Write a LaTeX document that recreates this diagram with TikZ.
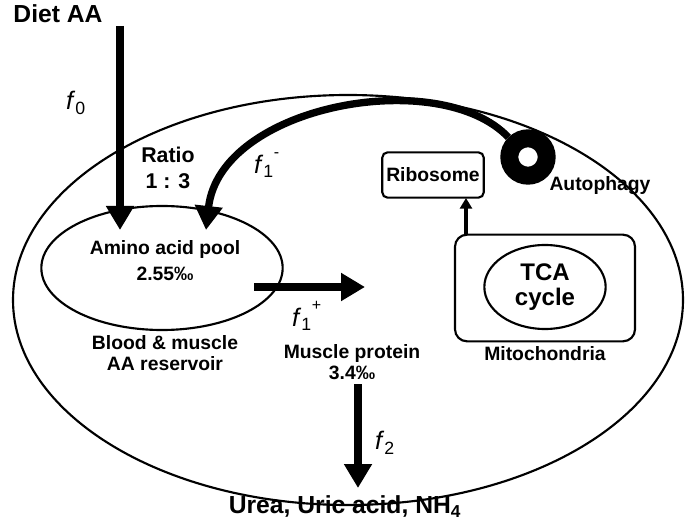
\documentclass[tikz,border=0pt]{standalone}
\usepackage{fontspec}
\setmainfont{Liberation Sans}
\usetikzlibrary{arrows.meta,shapes.geometric}
\newcommand{\ff}[2]{\textit{f}\textsubscript{\upshape #1}\rlap{\raisebox{1.2ex}{\upshape\fontsize{12}{12}\selectfont #2}}}
\begin{document}
\begin{tikzpicture}[x=0.75pt,y=-0.75pt,
  lbl/.style={font=\bfseries\fontsize{14.5}{16}\selectfont, align=center, inner sep=0},
  big/.style={font=\bfseries\fontsize{18.5}{19}\selectfont, inner sep=0},
  fl/.style={font=\fontsize{19}{19}\selectfont, inner sep=0},
  flow/.style={line width=5.5pt, -{Triangle[length=18pt,width=20pt]}},
  thin/.style={line width=1.6pt}]
\useasboundingbox (0,0) rectangle (685,520);
\draw[thin] (348,300) ellipse [x radius=335, y radius=205];
\node[draw, thin, ellipse, minimum width=181pt, minimum height=93pt] (pool) at (162,268) {};
\node[lbl] (aap) at (165,250) {Amino acid pool};
\node[lbl] at (165,274) {2.55‰};
\node[big] (diet) at (58,14) {Diet AA};
\coordinate (dtop) at (120,26);
\coordinate (dbot) at (120,230);
\draw[flow] (dtop) -- (dbot);
\node[fl] at (76,103) {\ff{0}{}};
\node[lbl,font=\bfseries\fontsize{16}{19}\selectfont] at (168,168) {Ratio\\1 : 3};
% autophagy ring
\node[circle, draw, line width=13.5pt, minimum size=28pt] (auto) at (528,157) {};
\draw[white, line width=1.5pt] (528,157) -- (521,161);
\draw[flow] (auto.north west) .. controls (440,65) and (220,105) .. (206,230);
\node[fl] at (264,165) {\ff{1}{-}};
\node[lbl] at (600,186) {Autophagy};
\node[draw, thin, rounded corners=4pt, minimum width=76pt, minimum height=34pt, lbl, inner sep=3pt] (ribo) at (433,175) {Ribosome};
\node[draw, thin, rounded corners=9pt, minimum width=135pt, minimum height=80pt] (mito) at (545,288) {};
\node[draw, thin, ellipse, minimum width=91pt, minimum height=63pt, lbl, font=\bfseries\fontsize{18}{19}\selectfont] (tca) at (545,287) {TCA\\cycle};
\node[lbl] at (545,354) {Mitochondria};
\coordinate (ra) at (466,235);
\coordinate (rb) at (466,198);
\draw[line width=2.5pt, -{Triangle[length=8pt,width=9pt]}] (ra) -- (rb);
\coordinate (pa) at (254,287);
\coordinate (pb) at (365,287);
\draw[flow] (pa) -- (pb);
\node[fl] at (302,316) {\ff{1}{+}};
\node[lbl] at (165,353) {Blood \& muscle\\AA reservoir};
\node[lbl] (mp) at (352,362) {Muscle protein\\3.4‰};
\coordinate (ma) at (358,384);
\node[big] (urea) at (345,507) {Urea, Uric acid, NH\textsubscript{4}};
\coordinate (mb) at (358,488);
\draw[flow] (ma) -- (mb);
\node[fl] at (385,443) {\ff{2}{}};
\end{tikzpicture}
\end{document}
